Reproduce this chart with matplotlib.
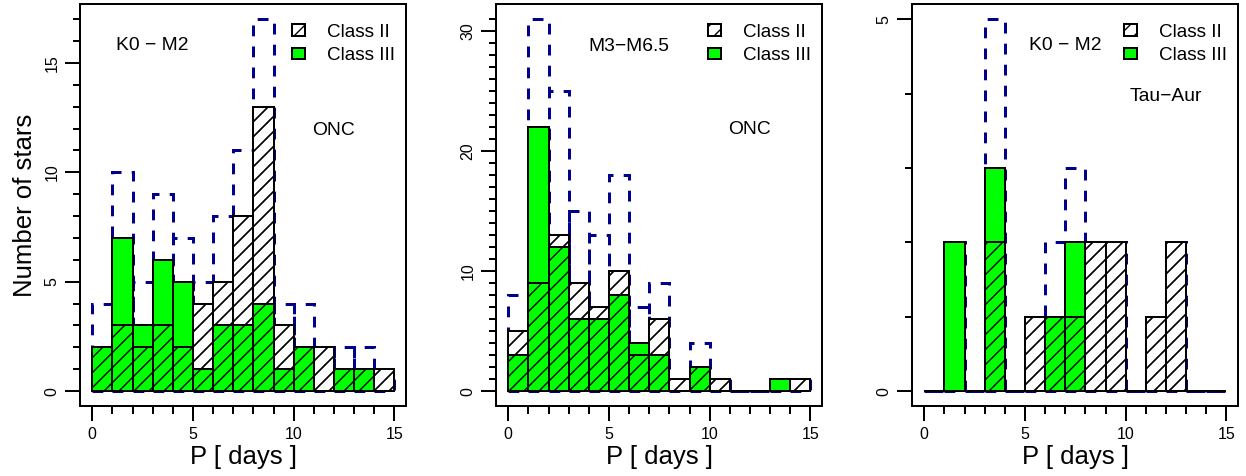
import numpy as np
import matplotlib
matplotlib.use("Agg")
import matplotlib.pyplot as plt
from matplotlib.patches import Patch
from matplotlib.ticker import MultipleLocator

# rotation period bins, 1 day wide, 0 - 15 days
bin_left = np.arange(0, 15)

# ONC, K0 - M2
onc_k_class2 = [2, 3, 2, 3, 2, 4, 5, 8, 13, 3, 2, 2, 1, 1, 1]
onc_k_class3 = [2, 7, 3, 6, 5, 1, 3, 3, 4, 1, 2, 0, 1, 1, 0]

# ONC, M3 - M6.5
onc_m_class2 = [5, 9, 13, 9, 7, 10, 3, 6, 1, 2, 1, 0, 0, 0, 1]
onc_m_class3 = [3, 22, 12, 6, 6, 8, 4, 3, 0, 2, 0, 0, 0, 1, 0]

# Tau-Aur, K0 - M2
tau_class2 = [0, 0, 0, 2, 0, 1, 1, 1, 2, 2, 0, 1, 2, 0, 0]
tau_class3 = [0, 2, 0, 3, 0, 0, 1, 2, 0, 0, 0, 0, 0, 0, 0]

spt_labels = ["K0 − M2", "M3−M6.5", "K0 − M2"]
region_labels = ["ONC", "ONC", "Tau−Aur"]
y_label_steps = [5, 10, 5]

# text positions (data coords) for the spectral type / region labels
spt_pos = [(3, 15.8), (6, 28.7), (7, 4.65)]
region_pos = [(12, 11.9), (12, 21.8), (12, 3.96)]

DPI = 90
GREEN = "#00FF00"
plt.rcParams["font.family"] = ["Liberation Sans", "DejaVu Sans"]
plt.rcParams["hatch.linewidth"] = 1.1

fig = plt.figure(figsize=(1246 / DPI, 476 / DPI), dpi=DPI)

panels = [(onc_k_class2, onc_k_class3),
          (onc_m_class2, onc_m_class3),
          (tau_class2, tau_class3)]
left_px = [80.2, 496.2, 912.2]
W, H = 1246.0, 476.0

for i, (c2, c3) in enumerate(panels):
    c2 = np.array(c2)
    c3 = np.array(c3)
    total = c2 + c3
    ymax = total.max()

    ax = fig.add_axes([left_px[i] / W, 1 - 406 / H, 326.2 / W, (406 - 4.3) / H])

    # all stars: dashed outline underneath
    ax.bar(bin_left, total, width=1, align="edge", fill=False,
           edgecolor="#00008B", linewidth=2.4, linestyle=(0, (3.6, 3.4)), zorder=1)
    # class II: white hatched
    ax.bar(bin_left, c2, width=1, align="edge", facecolor="white",
           edgecolor="black", linewidth=1.6, hatch="//", zorder=2)
    # class III: green
    ax.bar(bin_left, c3, width=1, align="edge", facecolor=GREEN,
           edgecolor="black", linewidth=1.6, zorder=3)
    # class II hatching again on top of green
    ax.bar(bin_left, c2, width=1, align="edge", fill=False,
           edgecolor="black", linewidth=1.6, hatch="//", zorder=4)

    ax.set_xlim(-0.6, 15.6)
    ax.set_ylim(-0.04 * ymax, 1.04 * ymax)

    ax.xaxis.set_major_locator(MultipleLocator(5))
    ax.xaxis.set_minor_locator(MultipleLocator(1))
    ax.set_yticks(np.arange(0, ymax + 1, y_label_steps[i]))
    ax.set_yticks(np.arange(0, ymax + 1, 1), minor=True)

    ax.tick_params(which="both", direction="out", width=1.6, top=False, right=False)
    ax.tick_params(which="major", length=12, labelsize=12.8)
    ax.tick_params(which="minor", length=6)
    ax.tick_params(axis="x", which="major", pad=4.5)
    ax.tick_params(axis="y", which="major", pad=4.5)
    for lab in ax.get_yticklabels():
        lab.set_rotation(90)
        lab.set_va("center")

    for s in ax.spines.values():
        s.set_linewidth(1.6)

    ax.set_xlabel("P [ days ]", fontsize=20.6)
    ax.xaxis.set_label_coords(0.5, -0.098)
    if i == 0:
        ax.set_ylabel("Number of stars", fontsize=20.6)
        ax.yaxis.set_label_coords(-0.132, 0.5)

    ax.text(spt_pos[i][0], spt_pos[i][1], spt_labels[i], fontsize=15.4,
            ha="center", va="center", zorder=6)
    ax.text(region_pos[i][0], region_pos[i][1], region_labels[i], fontsize=15.4,
            ha="center", va="center", zorder=6)

    handles = [Patch(facecolor="white", edgecolor="black", hatch="//", linewidth=1.6),
               Patch(facecolor=GREEN, edgecolor="black", linewidth=1.6)]
    ax.legend(handles, ["Class II", "Class III"], loc="upper left",
              bbox_to_anchor=(0.648, 0.952), frameon=False, fontsize=15.1,
              handlelength=0.71, handleheight=0.58, handletextpad=1.15,
              labelspacing=0.35, borderpad=0, borderaxespad=0)

fig.savefig("out.png", dpi=DPI)
